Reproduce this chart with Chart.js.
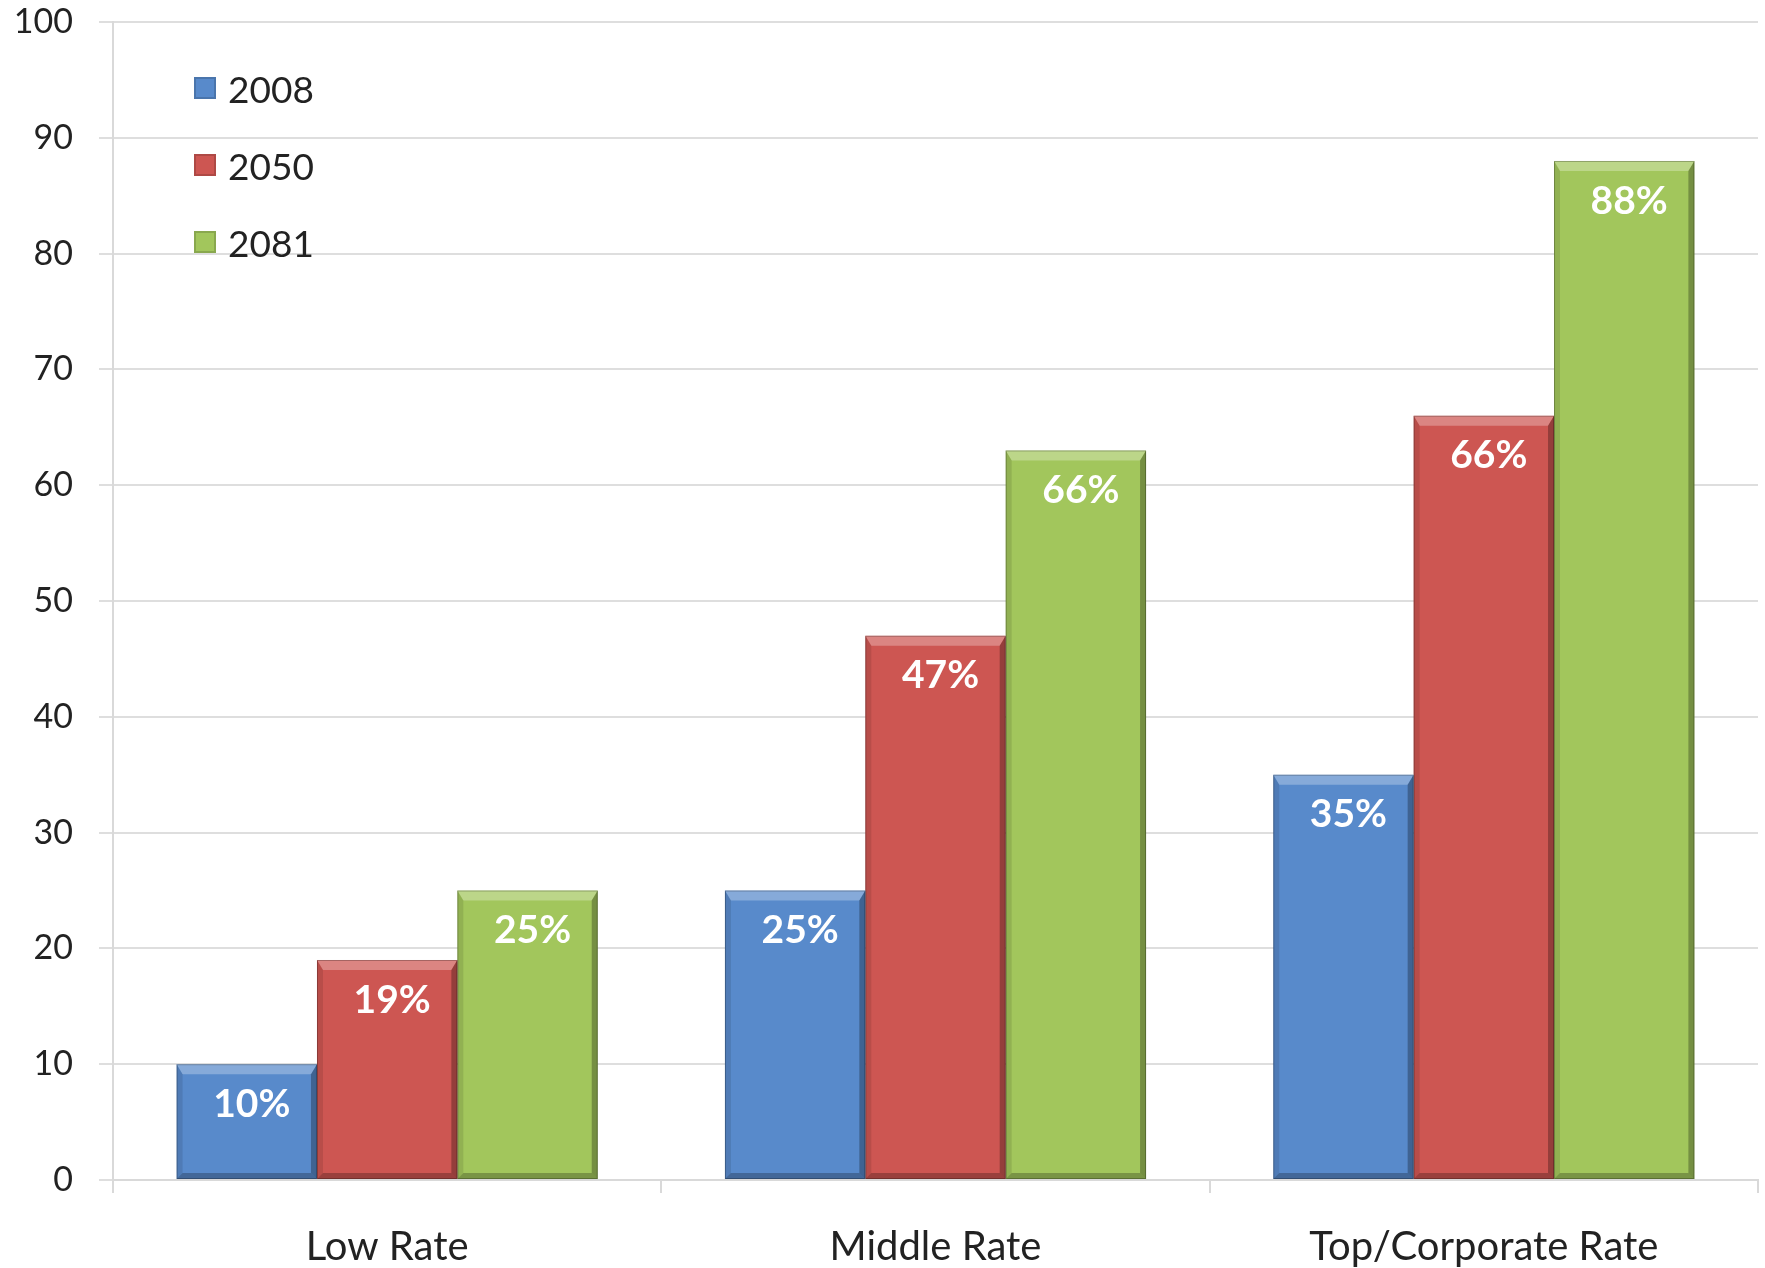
<!DOCTYPE html>
<html>
<head>
<meta charset="utf-8">
<script src="https://cdn.jsdelivr.net/npm/chart.js@4/dist/chart.umd.min.js"></script>
<style>
  html, body { margin: 0; padding: 0; background: #ffffff; }
  #wrap { position: relative; width: 1765px; height: 1268px; }
  #legend { position: absolute; left: 194px; top: 66px; font-family: Lato, "Open Sans", sans-serif; font-size: 37px; color: #222; }
  .item { height: 77px; display: flex; align-items: flex-start; }
  .box { width: 22px; height: 22px; margin-right: 12px; margin-top: 11px; box-shadow: inset 0 0 0 2px rgba(0,0,0,0.15); }
</style>
</head>
<body>
<div id="wrap">
  <canvas id="c" width="1765" height="1268"></canvas>
  <div id="legend"></div>
</div>
<script>
const categories = ["Low Rate", "Middle Rate", "Top/Corporate Rate"];
const seriesNames = ["2008", "2050", "2081"];
const values2008 = [10, 25, 35];
const values2050 = [19, 47, 66];
const values2081 = [25, 63, 88];
const labels2008 = ["10%", "25%", "35%"];
const labels2050 = ["19%", "47%", "66%"];
const labels2081 = ["25%", "66%", "88%"];
const yTicks = [0, 10, 20, 30, 40, 50, 60, 70, 80, 90, 100];
const colors = ["#588ACB", "#CD5652", "#A2C65C"];

const seriesValues = [values2008, values2050, values2081];
const seriesLabels = [labels2008, labels2050, labels2081];

const bevelPlugin = {
  id: 'bevel',
  afterDatasetsDraw(chart) {
    const ctx = chart.ctx;
    chart.data.datasets.forEach((ds, di) => {
      const meta = chart.getDatasetMeta(di);
      meta.data.forEach((bar, i) => {
        const l = bar.x - bar.width / 2, r = bar.x + bar.width / 2;
        const t = bar.y, b = bar.base;
        const tb = 10, sb = 6;
        ctx.save();
        ctx.beginPath();
        ctx.moveTo(l, t); ctx.lineTo(r, t); ctx.lineTo(r - sb, t + tb); ctx.lineTo(l + sb, t + tb); ctx.closePath();
        ctx.fillStyle = 'rgba(255,255,255,0.28)'; ctx.fill();
        ctx.beginPath();
        ctx.moveTo(r, t); ctx.lineTo(r, b); ctx.lineTo(r - sb, b - sb); ctx.lineTo(r - sb, t + tb); ctx.closePath();
        ctx.fillStyle = 'rgba(0,0,0,0.28)'; ctx.fill();
        ctx.beginPath();
        ctx.moveTo(l, t); ctx.lineTo(l + sb, t + tb); ctx.lineTo(l + sb, b - sb); ctx.lineTo(l, b); ctx.closePath();
        ctx.fillStyle = 'rgba(0,0,0,0.10)'; ctx.fill();
        ctx.beginPath();
        ctx.moveTo(l, b); ctx.lineTo(l + sb, b - sb); ctx.lineTo(r - sb, b - sb); ctx.lineTo(r, b); ctx.closePath();
        ctx.fillStyle = 'rgba(0,0,0,0.25)'; ctx.fill();
        ctx.strokeStyle = 'rgba(0,0,0,0.25)'; ctx.lineWidth = 1;
        ctx.strokeRect(l + 0.5, t + 0.5, r - l - 1, b - t - 1);
        ctx.fillStyle = '#ffffff';
        ctx.font = 'bold 39px Lato, "Open Sans", sans-serif';
        ctx.textAlign = 'center';
        ctx.textBaseline = 'middle';
        ctx.fillText(seriesLabels[di][i], bar.x + 5, t + 40);
        ctx.restore();
      });
    });
  }
};

const chart = new Chart(document.getElementById('c'), {
  type: 'bar',
  data: {
    labels: categories,
    datasets: seriesNames.map((n, i) => ({
      label: n,
      data: seriesValues[i],
      backgroundColor: colors[i],
      borderWidth: 0,
      barPercentage: 1.0,
      categoryPercentage: 0.768
    }))
  },
  options: {
    responsive: false,
    animation: false,
    layout: { padding: { top: 0, right: 7, left: 0, bottom: 0 } },
    plugins: { legend: { display: false }, tooltip: { enabled: false } },
    scales: {
      x: {
        grid: { display: true, drawOnChartArea: false, drawTicks: true, tickLength: 13, color: '#d9d9d9', lineWidth: 2, offset: true },
        border: { display: true, color: '#d9d9d9', width: 2 },
        ticks: { color: '#222', font: { family: 'Lato, "Open Sans", sans-serif', size: 40 }, padding: 30 },
        afterFit(s) { s.height = 88; }
      },
      y: {
        min: 0, max: 100,
        afterBuildTicks(s) { s.ticks = yTicks.map(v => ({ value: v })); },
        grid: { color: '#dedede', lineWidth: 2, drawTicks: true, tickLength: 14 },
        border: { display: true, color: '#d9d9d9', width: 2 },
        ticks: { color: '#222', font: { family: 'Lato, "Open Sans", sans-serif', size: 34 }, padding: 26 },
        afterFit(s) { s.width = 113; s.paddingTop = 22; s.paddingBottom = 20; }
      }
    }
  },
  plugins: [bevelPlugin]
});

const legend = document.getElementById('legend');
seriesNames.forEach((n, i) => {
  const item = document.createElement('div');
  item.className = 'item';
  const box = document.createElement('div');
  box.className = 'box';
  box.style.background = colors[i];
  const txt = document.createElement('span');
  txt.textContent = n;
  item.appendChild(box); item.appendChild(txt);
  legend.appendChild(item);
});
</script>
</body>
</html>
